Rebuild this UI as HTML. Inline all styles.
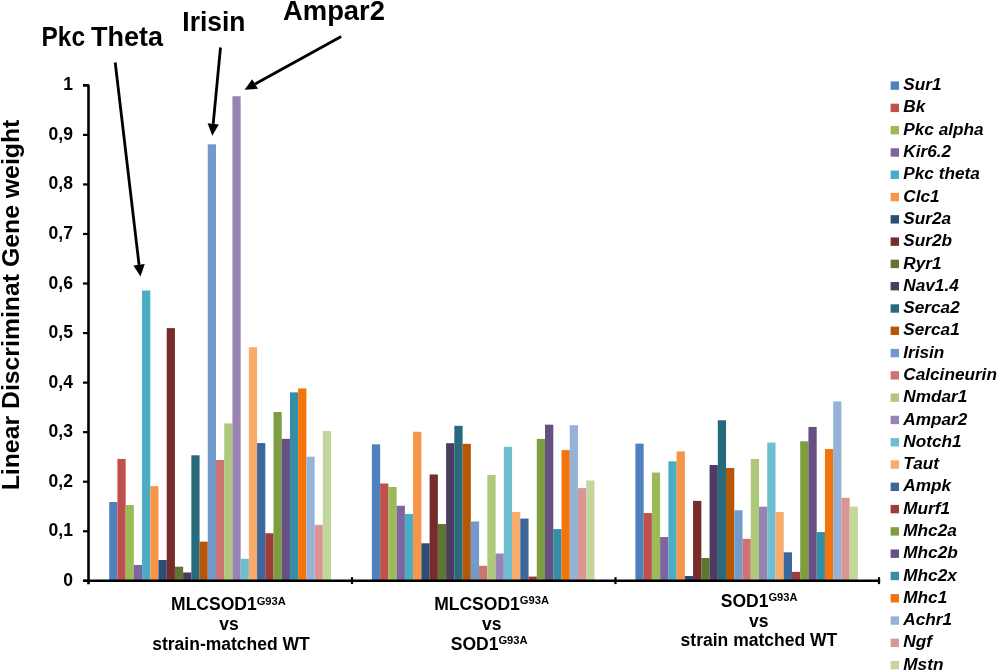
<!DOCTYPE html>
<html><head><meta charset="utf-8"><title>Linear discriminant gene weights</title>
<style>
html,body{margin:0;padding:0;background:#fff;}
body{width:998px;height:671px;overflow:hidden;position:relative;}
svg{position:absolute;left:0;top:0;display:block;will-change:transform;}
text{font-family:"Liberation Sans",sans-serif;font-weight:bold;fill:#000;}
.lg{font-style:italic;font-size:17.2px;}
.tk{font-size:17.5px;}
.cat{font-size:17.5px;}
.sup{font-size:11.2px;}
.ann{font-size:27.6px;}
</style></head><body>
<svg width="998" height="671" viewBox="0 0 998 671">
<g>
<rect x="109.20" y="502.02" width="8.235" height="78.78" fill="#4F81BD"/>
<rect x="117.42" y="458.92" width="8.235" height="121.88" fill="#C0504D"/>
<rect x="125.63" y="505.00" width="8.235" height="75.80" fill="#9BBB59"/>
<rect x="133.84" y="564.95" width="8.235" height="15.85" fill="#8064A2"/>
<rect x="142.06" y="290.47" width="8.235" height="290.33" fill="#4BACC6"/>
<rect x="150.28" y="486.17" width="8.235" height="94.63" fill="#F79646"/>
<rect x="158.49" y="559.99" width="8.235" height="20.81" fill="#2C4D75"/>
<rect x="166.70" y="328.12" width="8.235" height="252.68" fill="#772C2A"/>
<rect x="174.92" y="566.68" width="8.235" height="14.12" fill="#5F7530"/>
<rect x="183.13" y="572.48" width="8.235" height="8.32" fill="#4D3B62"/>
<rect x="191.35" y="455.30" width="8.235" height="125.50" fill="#276A7C"/>
<rect x="199.56" y="541.66" width="8.235" height="39.14" fill="#B65708"/>
<rect x="207.78" y="144.31" width="8.235" height="436.49" fill="#729ACA"/>
<rect x="216.00" y="460.01" width="8.235" height="120.79" fill="#CD7371"/>
<rect x="224.21" y="423.40" width="8.235" height="157.40" fill="#AFC97A"/>
<rect x="232.43" y="96.25" width="8.235" height="484.55" fill="#9983B5"/>
<rect x="240.64" y="558.80" width="8.235" height="22.00" fill="#6FBDD1"/>
<rect x="248.86" y="347.20" width="8.235" height="233.60" fill="#F9AB6B"/>
<rect x="257.07" y="443.06" width="8.235" height="137.74" fill="#3A679C"/>
<rect x="265.29" y="533.24" width="8.235" height="47.56" fill="#9F3B38"/>
<rect x="273.50" y="412.00" width="8.235" height="168.80" fill="#7E9D40"/>
<rect x="281.71" y="438.85" width="8.235" height="141.95" fill="#664F83"/>
<rect x="289.93" y="392.38" width="8.235" height="188.42" fill="#358EA6"/>
<rect x="298.14" y="388.37" width="8.235" height="192.43" fill="#F3740B"/>
<rect x="306.36" y="456.69" width="8.235" height="124.11" fill="#95B3D7"/>
<rect x="314.57" y="524.86" width="8.235" height="55.94" fill="#D99694"/>
<rect x="322.79" y="430.98" width="8.235" height="149.82" fill="#C3D69B"/>
<rect x="371.90" y="444.30" width="8.264" height="136.50" fill="#4F81BD"/>
<rect x="380.14" y="483.49" width="8.264" height="97.31" fill="#C0504D"/>
<rect x="388.39" y="487.01" width="8.264" height="93.79" fill="#9BBB59"/>
<rect x="396.63" y="505.79" width="8.264" height="75.01" fill="#8064A2"/>
<rect x="404.88" y="513.91" width="8.264" height="66.89" fill="#4BACC6"/>
<rect x="413.12" y="431.77" width="8.264" height="149.03" fill="#F79646"/>
<rect x="421.36" y="543.29" width="8.264" height="37.51" fill="#2C4D75"/>
<rect x="429.61" y="474.48" width="8.264" height="106.32" fill="#772C2A"/>
<rect x="437.85" y="523.97" width="8.264" height="56.83" fill="#5F7530"/>
<rect x="446.10" y="443.21" width="8.264" height="137.59" fill="#4D3B62"/>
<rect x="454.34" y="425.82" width="8.264" height="154.98" fill="#276A7C"/>
<rect x="462.58" y="443.81" width="8.264" height="136.99" fill="#B65708"/>
<rect x="470.83" y="521.49" width="8.264" height="59.31" fill="#729ACA"/>
<rect x="479.07" y="565.79" width="8.264" height="15.01" fill="#CD7371"/>
<rect x="487.32" y="475.07" width="8.264" height="105.73" fill="#AFC97A"/>
<rect x="495.56" y="553.50" width="8.264" height="27.30" fill="#9983B5"/>
<rect x="503.80" y="446.78" width="8.264" height="134.02" fill="#6FBDD1"/>
<rect x="512.05" y="511.98" width="8.264" height="68.82" fill="#F9AB6B"/>
<rect x="520.29" y="518.57" width="8.264" height="62.23" fill="#3A679C"/>
<rect x="528.54" y="576.59" width="8.264" height="4.21" fill="#9F3B38"/>
<rect x="536.78" y="438.90" width="8.264" height="141.90" fill="#7E9D40"/>
<rect x="545.02" y="424.68" width="8.264" height="156.12" fill="#664F83"/>
<rect x="553.27" y="529.08" width="8.264" height="51.72" fill="#358EA6"/>
<rect x="561.51" y="450.10" width="8.264" height="130.70" fill="#F3740B"/>
<rect x="569.76" y="425.18" width="8.264" height="155.62" fill="#95B3D7"/>
<rect x="578.00" y="488.10" width="8.264" height="92.70" fill="#D99694"/>
<rect x="586.24" y="480.47" width="8.264" height="100.33" fill="#C3D69B"/>
<rect x="635.40" y="443.56" width="8.260" height="137.24" fill="#4F81BD"/>
<rect x="643.64" y="513.07" width="8.260" height="67.73" fill="#C0504D"/>
<rect x="651.88" y="472.59" width="8.260" height="108.21" fill="#9BBB59"/>
<rect x="660.12" y="537.00" width="8.260" height="43.80" fill="#8064A2"/>
<rect x="668.36" y="461.30" width="8.260" height="119.50" fill="#4BACC6"/>
<rect x="676.60" y="451.39" width="8.260" height="129.41" fill="#F79646"/>
<rect x="684.84" y="575.99" width="8.260" height="4.81" fill="#2C4D75"/>
<rect x="693.08" y="500.88" width="8.260" height="79.92" fill="#772C2A"/>
<rect x="701.32" y="558.01" width="8.260" height="22.79" fill="#5F7530"/>
<rect x="709.56" y="465.01" width="8.260" height="115.79" fill="#4D3B62"/>
<rect x="717.80" y="420.27" width="8.260" height="160.53" fill="#276A7C"/>
<rect x="726.04" y="467.99" width="8.260" height="112.81" fill="#B65708"/>
<rect x="734.28" y="510.30" width="8.260" height="70.50" fill="#729ACA"/>
<rect x="742.52" y="538.88" width="8.260" height="41.92" fill="#CD7371"/>
<rect x="750.76" y="458.92" width="8.260" height="121.88" fill="#AFC97A"/>
<rect x="759.00" y="506.68" width="8.260" height="74.12" fill="#9983B5"/>
<rect x="767.24" y="442.57" width="8.260" height="138.23" fill="#6FBDD1"/>
<rect x="775.48" y="511.98" width="8.260" height="68.82" fill="#F9AB6B"/>
<rect x="783.72" y="552.31" width="8.260" height="28.49" fill="#3A679C"/>
<rect x="791.96" y="571.88" width="8.260" height="8.92" fill="#9F3B38"/>
<rect x="800.20" y="441.28" width="8.260" height="139.52" fill="#7E9D40"/>
<rect x="808.44" y="426.96" width="8.260" height="153.84" fill="#664F83"/>
<rect x="816.68" y="532.10" width="8.260" height="48.70" fill="#358EA6"/>
<rect x="824.92" y="449.01" width="8.260" height="131.79" fill="#F3740B"/>
<rect x="833.16" y="401.40" width="8.260" height="179.40" fill="#95B3D7"/>
<rect x="841.40" y="497.81" width="8.260" height="82.99" fill="#D99694"/>
<rect x="849.64" y="506.58" width="8.260" height="74.22" fill="#C3D69B"/>
</g>
<g stroke="#000" stroke-width="2.6" fill="none" stroke-linecap="butt">
<polyline points="83,85.35 88.50,85.35 88.50,584.2" stroke-linejoin="bevel"/>
<line x1="83" y1="580.80" x2="88.50" y2="580.80" stroke-width="2.2"/>
<line x1="83" y1="531.25" x2="88.50" y2="531.25" stroke-width="2.2"/>
<line x1="83" y1="481.71" x2="88.50" y2="481.71" stroke-width="2.2"/>
<line x1="83" y1="432.16" x2="88.50" y2="432.16" stroke-width="2.2"/>
<line x1="83" y1="382.62" x2="88.50" y2="382.62" stroke-width="2.2"/>
<line x1="83" y1="333.07" x2="88.50" y2="333.07" stroke-width="2.2"/>
<line x1="83" y1="283.53" x2="88.50" y2="283.53" stroke-width="2.2"/>
<line x1="83" y1="233.99" x2="88.50" y2="233.99" stroke-width="2.2"/>
<line x1="83" y1="184.44" x2="88.50" y2="184.44" stroke-width="2.2"/>
<line x1="83" y1="134.90" x2="88.50" y2="134.90" stroke-width="2.2"/>
<line x1="83" y1="580.80" x2="880.20" y2="580.80"/>
<line x1="352.00" y1="577.2" x2="352.00" y2="584.1" stroke-width="2.2"/>
<line x1="615.50" y1="577.2" x2="615.50" y2="584.1" stroke-width="2.2"/>
<line x1="879.00" y1="577.2" x2="879.00" y2="584.1" stroke-width="2.2"/>
</g>
<text class="tk" x="72.9" y="586.00" text-anchor="end">0</text>
<text class="tk" x="72.9" y="536.00" text-anchor="end">0,1</text>
<text class="tk" x="72.9" y="487.00" text-anchor="end">0,2</text>
<text class="tk" x="72.9" y="437.00" text-anchor="end">0,3</text>
<text class="tk" x="72.9" y="388.00" text-anchor="end">0,4</text>
<text class="tk" x="72.9" y="338.00" text-anchor="end">0,5</text>
<text class="tk" x="72.9" y="289.00" text-anchor="end">0,6</text>
<text class="tk" x="72.9" y="239.00" text-anchor="end">0,7</text>
<text class="tk" x="72.9" y="189.00" text-anchor="end">0,8</text>
<text class="tk" x="72.9" y="140.00" text-anchor="end">0,9</text>
<text class="tk" x="72.9" y="90.00" text-anchor="end">1</text>
<text x="0" y="0" font-size="24.8" text-anchor="middle" transform="translate(18.5,305) rotate(-90)">Linear Discriminat Gene weight</text>
<rect x="890.6" y="81.40" width="8.4" height="8.4" fill="#4F81BD"/>
<text class="lg" x="903.3" y="90.20">Sur1</text>
<rect x="890.6" y="103.69" width="8.4" height="8.4" fill="#C0504D"/>
<text class="lg" x="903.3" y="112.49">Bk</text>
<rect x="890.6" y="125.98" width="8.4" height="8.4" fill="#9BBB59"/>
<text class="lg" x="903.3" y="134.78">Pkc alpha</text>
<rect x="890.6" y="148.27" width="8.4" height="8.4" fill="#8064A2"/>
<text class="lg" x="903.3" y="157.07">Kir6.2</text>
<rect x="890.6" y="170.56" width="8.4" height="8.4" fill="#4BACC6"/>
<text class="lg" x="903.3" y="179.36">Pkc theta</text>
<rect x="890.6" y="192.85" width="8.4" height="8.4" fill="#F79646"/>
<text class="lg" x="903.3" y="201.65">Clc1</text>
<rect x="890.6" y="215.14" width="8.4" height="8.4" fill="#2C4D75"/>
<text class="lg" x="903.3" y="223.94">Sur2a</text>
<rect x="890.6" y="237.43" width="8.4" height="8.4" fill="#772C2A"/>
<text class="lg" x="903.3" y="246.23">Sur2b</text>
<rect x="890.6" y="259.72" width="8.4" height="8.4" fill="#5F7530"/>
<text class="lg" x="903.3" y="268.52">Ryr1</text>
<rect x="890.6" y="282.01" width="8.4" height="8.4" fill="#4D3B62"/>
<text class="lg" x="903.3" y="290.81">Nav1.4</text>
<rect x="890.6" y="304.30" width="8.4" height="8.4" fill="#276A7C"/>
<text class="lg" x="903.3" y="313.10">Serca2</text>
<rect x="890.6" y="326.59" width="8.4" height="8.4" fill="#B65708"/>
<text class="lg" x="903.3" y="335.39">Serca1</text>
<rect x="890.6" y="348.88" width="8.4" height="8.4" fill="#729ACA"/>
<text class="lg" x="903.3" y="357.68">Irisin</text>
<rect x="890.6" y="371.17" width="8.4" height="8.4" fill="#CD7371"/>
<text class="lg" x="903.3" y="379.97">Calcineurin</text>
<rect x="890.6" y="393.46" width="8.4" height="8.4" fill="#AFC97A"/>
<text class="lg" x="903.3" y="402.26">Nmdar1</text>
<rect x="890.6" y="415.75" width="8.4" height="8.4" fill="#9983B5"/>
<text class="lg" x="903.3" y="424.55">Ampar2</text>
<rect x="890.6" y="438.04" width="8.4" height="8.4" fill="#6FBDD1"/>
<text class="lg" x="903.3" y="446.84">Notch1</text>
<rect x="890.6" y="460.33" width="8.4" height="8.4" fill="#F9AB6B"/>
<text class="lg" x="903.3" y="469.13">Taut</text>
<rect x="890.6" y="482.62" width="8.4" height="8.4" fill="#3A679C"/>
<text class="lg" x="903.3" y="491.42">Ampk</text>
<rect x="890.6" y="504.91" width="8.4" height="8.4" fill="#9F3B38"/>
<text class="lg" x="903.3" y="513.71">Murf1</text>
<rect x="890.6" y="527.20" width="8.4" height="8.4" fill="#7E9D40"/>
<text class="lg" x="903.3" y="536.00">Mhc2a</text>
<rect x="890.6" y="549.49" width="8.4" height="8.4" fill="#664F83"/>
<text class="lg" x="903.3" y="558.29">Mhc2b</text>
<rect x="890.6" y="571.78" width="8.4" height="8.4" fill="#358EA6"/>
<text class="lg" x="903.3" y="580.58">Mhc2x</text>
<rect x="890.6" y="594.07" width="8.4" height="8.4" fill="#F3740B"/>
<text class="lg" x="903.3" y="602.87">Mhc1</text>
<rect x="890.6" y="616.36" width="8.4" height="8.4" fill="#95B3D7"/>
<text class="lg" x="903.3" y="625.16">Achr1</text>
<rect x="890.6" y="638.65" width="8.4" height="8.4" fill="#D99694"/>
<text class="lg" x="903.3" y="647.45">Ngf</text>
<rect x="890.6" y="660.94" width="8.4" height="8.4" fill="#C3D69B"/>
<text class="lg" x="903.3" y="669.74">Mstn</text>
<text class="cat" x="228.5" y="610.4" text-anchor="middle">MLCSOD1<tspan class="sup" dy="-5.6">G93A</tspan></text>
<text class="cat" x="228.9" y="630.4" text-anchor="middle">vs</text>
<text class="cat" x="231" y="650" text-anchor="middle">strain-matched WT</text>
<text class="cat" x="491.6" y="609.9" text-anchor="middle">MLCSOD1<tspan class="sup" dy="-5.6">G93A</tspan></text>
<text class="cat" x="491.8" y="629.7" text-anchor="middle">vs</text>
<text class="cat" x="489.2" y="649.6" text-anchor="middle">SOD1<tspan class="sup" dy="-5.6">G93A</tspan></text>
<text class="cat" x="759.2" y="607" text-anchor="middle">SOD1<tspan class="sup" dy="-5.6">G93A</tspan></text>
<text class="cat" x="758.8" y="626.6" text-anchor="middle">vs</text>
<text class="cat" x="758.9" y="646.2" text-anchor="middle">strain matched WT</text>
<text class="ann" x="41.50" y="45.6" textLength="43.50" lengthAdjust="spacingAndGlyphs">Pkc</text>
<text class="ann" x="91.00" y="45.6" textLength="72.00" lengthAdjust="spacingAndGlyphs">Theta</text>
<text class="ann" x="182.3" y="30.7" textLength="63.2" lengthAdjust="spacingAndGlyphs">Irisin</text>
<text class="ann" x="283.0" y="20.4" textLength="102" lengthAdjust="spacingAndGlyphs">Ampar2</text>
<line x1="115.20" y1="62.50" x2="139.05" y2="264.80" stroke="#000" stroke-width="2.8"/>
<polygon points="140.50,276.60 133.40,265.50 144.70,264.10" fill="#000"/>
<line x1="220.50" y1="47.50" x2="213.20" y2="123.80" stroke="#000" stroke-width="2.8"/>
<polygon points="212.30,135.70 207.60,123.20 218.80,124.40" fill="#000"/>
<line x1="341.20" y1="36.50" x2="255.10" y2="84.00" stroke="#000" stroke-width="2.8"/>
<polygon points="244.60,89.70 252.20,79.20 258.00,88.80" fill="#000"/>
</svg>
</body></html>
